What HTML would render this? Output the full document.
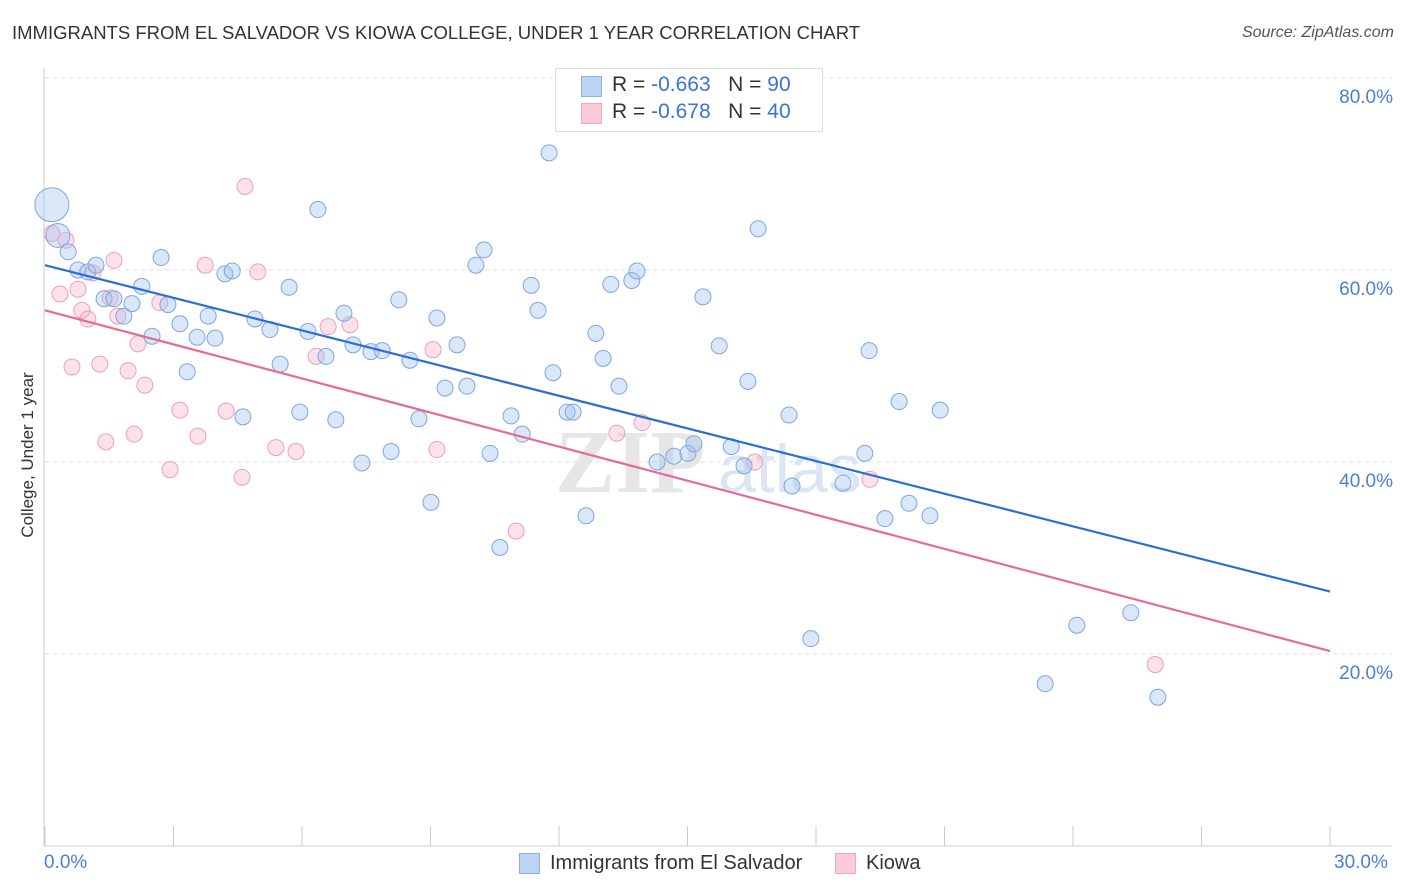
<!DOCTYPE html>
<html><head><meta charset="utf-8">
<style>
body{margin:0;background:#fff;font-family:"Liberation Sans",sans-serif;}
#wrap{position:relative;width:1406px;height:892px;overflow:hidden;}
.t{position:absolute;white-space:nowrap;}
</style></head>
<body>
<div id="wrap">
<div class="t" style="left:12px;top:22px;font-size:18.5px;color:#333;">IMMIGRANTS FROM EL SALVADOR VS KIOWA COLLEGE, UNDER 1 YEAR CORRELATION CHART</div>
<div class="t" style="right:12px;top:24px;font-size:16px;color:#555;font-style:italic;">Source: ZipAtlas.com</div>
<div class="t" style="left:28px;top:455px;font-size:17px;color:#333;transform:translate(-50%,-50%) rotate(-90deg);">College, Under 1 year</div>
<svg id="svg" width="1406" height="892" style="position:absolute;left:0;top:0;">
<g id="grid"></g>
<text x="555" y="492" font-size="90" font-family="Liberation Serif" fill="#e6e6e6" font-weight="bold">ZIP</text>
<text x="718" y="492" font-size="68" fill="#dbe6f4">atlas</text>
<g id="pts"></g>
<g id="lines"></g>
</svg>
<div style="position:absolute;left:555px;top:68px;width:266px;height:62px;border:1px solid #ddd;background:#fff;"></div>
<div style="position:absolute;left:581px;top:76px;width:19px;height:19px;background:#bcd4f4;border:1px solid #8ab0e6;"></div>
<div style="position:absolute;left:581px;top:103px;width:19px;height:19px;background:#f9cbd9;border:1px solid #eea8bf;"></div>
<div class="t" style="left:612px;top:73px;font-size:21px;color:#333;">R = <span style="color:#3a73d6">-0.663</span>&nbsp;&nbsp;&nbsp;N = <span style="color:#3a73d6">90</span></div>
<div class="t" style="left:612px;top:100px;font-size:21px;color:#333;">R = <span style="color:#3a73d6">-0.678</span>&nbsp;&nbsp;&nbsp;N = <span style="color:#3a73d6">40</span></div>
<div style="position:absolute;left:519px;top:853px;width:19px;height:19px;background:#bcd4f4;border:1px solid #8ab0e6;"></div>
<div class="t" style="left:550px;top:852px;font-size:20px;color:#333;">Immigrants from El Salvador</div>
<div style="position:absolute;left:835px;top:853px;width:19px;height:19px;background:#f9cbd9;border:1px solid #eea8bf;"></div>
<div class="t" style="left:866px;top:852px;font-size:20px;color:#333;">Kiowa</div>
<div class="t" style="left:44px;top:852px;font-size:19px;color:#4a7fd4;">0.0%</div>
<div class="t" style="left:1334px;top:852px;font-size:19px;color:#4a7fd4;">30.0%</div>
</div>
<script>
const yTicks=[20,40,60,80];
const blueX=[0.16,0.30,0.54,0.77,1.00,1.19,1.38,1.61,1.84,2.03,2.26,2.50,2.71,2.87,3.15,3.32,3.55,3.81,3.97,4.20,4.37,4.62,4.90,5.25,5.49,5.70,5.95,6.14,6.37,6.56,6.79,6.98,7.19,7.40,7.61,7.87,8.08,8.26,8.52,8.73,9.01,9.15,9.34,9.62,9.85,10.06,10.25,10.39,10.62,10.88,11.14,11.35,11.51,11.77,11.86,12.19,12.33,12.63,12.86,13.03,13.21,13.40,13.70,13.82,14.29,14.68,15.01,15.15,15.36,15.74,16.02,16.32,16.41,16.65,17.37,17.44,17.88,18.63,19.14,19.24,19.61,19.94,20.17,20.66,20.90,23.35,24.09,25.35,25.98];
const blueY=[66.8,63.6,61.9,60.0,59.8,60.5,57.0,57.0,55.2,56.5,58.3,53.1,61.3,56.4,54.4,49.4,53.0,55.2,52.9,59.6,59.9,44.7,54.9,53.8,50.2,58.2,45.2,53.6,66.3,51.0,44.4,55.5,52.2,39.9,51.5,51.6,41.1,56.9,50.6,44.5,35.8,55.0,47.7,52.2,47.9,60.5,62.1,40.9,31.1,44.8,42.9,58.4,55.8,72.2,49.3,45.2,45.2,34.4,53.4,50.8,58.5,47.9,58.9,59.9,40.0,40.6,40.9,41.9,57.2,52.1,41.6,39.6,48.4,64.3,44.9,37.5,21.6,37.8,40.9,51.6,34.1,46.3,35.7,34.4,45.4,16.9,23.0,24.3,15.5];
const pinkX=[0.16,0.35,0.49,0.63,0.77,0.86,1.0,1.12,1.28,1.42,1.52,1.61,1.7,1.94,2.08,2.17,2.33,2.68,2.92,3.15,3.57,3.74,4.23,4.6,4.67,4.97,5.39,5.86,6.33,6.61,7.12,9.06,9.15,11.0,13.35,13.94,16.57,19.26,25.92];
const pinkY=[63.8,57.5,63.1,49.9,58.0,55.8,54.9,59.7,50.2,42.1,57.1,61.0,55.2,49.5,42.9,52.3,48.0,56.6,39.2,45.4,42.7,60.5,45.3,38.4,68.7,59.8,41.5,41.1,51.0,54.1,54.3,51.7,41.3,32.8,43.0,44.1,40.0,38.2,18.9];
const blueFit=[60.5,26.5];
const pinkFit=[55.8,20.3];
const X=v=>45+v/30*1285, Y=v=>846-v/20*192;
const NS='http://www.w3.org/2000/svg';
const g=document.getElementById('grid'),P=document.getElementById('pts'),L=document.getElementById('lines');
function mk(tag,attrs,par){const e=document.createElementNS(NS,tag);for(const k in attrs)e.setAttribute(k,attrs[k]);par.appendChild(e);return e;}
yTicks.forEach(t=>{
const l=mk('line',{x1:45,x2:1392,y1:Y(t),y2:Y(t),stroke:'#dcdcdc','stroke-dasharray':'4,4'},g);


const tx=mk('text',{x:1393,y:Y(t)+25,'text-anchor':'end','font-size':19,fill:'#4a7fd4'},g);
tx.textContent=t.toFixed(1)+'%';


});
const ax=mk('line',{x1:44,x2:44,y1:68,y2:846,stroke:'#ccc'},g);


const bx=mk('line',{x1:44,x2:1392,y1:846,y2:846,stroke:'#ccc'},g);


for(let i=0;i<=10;i++){const tk=mk('line',{x1:X(i*3),x2:X(i*3),y1:826,y2:846,stroke:'#ccc'},g);

}
pinkX.forEach((x,i)=>{const c=mk('circle',{cx:X(x),cy:Y(pinkY[i]),r:8,fill:'rgba(246,170,196,0.35)',stroke:'#eaa0bb','stroke-width':1},P);

});
blueX.forEach((x,i)=>{const r=i==0?17:(i==1?12:8);const c=mk('circle',{cx:X(x),cy:Y(blueY[i]),r:r,fill:'rgba(160,195,240,0.4)',stroke:'#7ea6e0','stroke-width':1},P);

});
const lb=mk('line',{x1:X(0),y1:Y(blueFit[0]),x2:X(30),y2:Y(blueFit[1]),stroke:'#2a6ed6','stroke-width':2.2},L);


const lp=mk('line',{x1:X(0),y1:Y(pinkFit[0]),x2:X(30),y2:Y(pinkFit[1]),stroke:'#e56b96','stroke-width':2.2},L);


</script>
</body></html>
